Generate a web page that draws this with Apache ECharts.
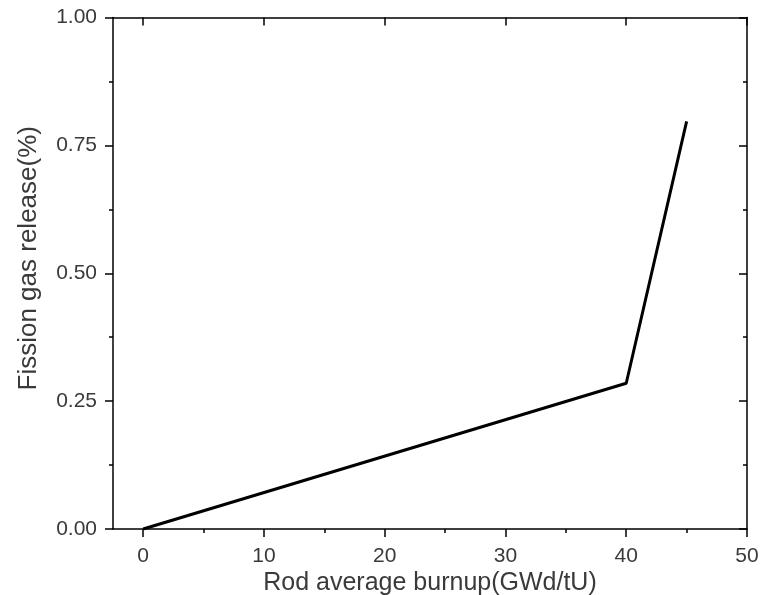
<!DOCTYPE html>
<html><head><meta charset="utf-8">
<script src="https://cdn.jsdelivr.net/npm/echarts@6/dist/echarts.min.js"></script>
<style>html,body{margin:0;padding:0;background:#fff}#c{width:766px;height:595px}</style>
</head><body><div id="c"></div>
<script>
var burnup = [0, 40, 45];
var fgr = [0, 0.285, 0.797];
var xTicks = [0, 10, 20, 30, 40, 50];
var xMinorTicks = [5, 15, 25, 35, 45];
var xTitle = 'Rod average burnup(GWd/tU)';
var yTitle = 'Fission gas release(%)';

var chart = echarts.init(document.getElementById('c'), null, {renderer:'canvas'});
var font = 'Liberation Sans, Arial, sans-serif';
var lineStyle = {color:'#000', width:1.5};
function xAx(pos, show){
  return {type:'value', position:pos, min:-2.5, max:50, interval:10,
    name: show ? xTitle : '', nameLocation:'middle', nameGap:42, nameMoveOverlap:false,
    nameTextStyle:{fontFamily:font, fontSize:25, color:'#3a3a3a'},
    axisLine:{show:true, onZero:false, lineStyle:lineStyle},
    axisTick:{show:true, inside:!show, length:8, lineStyle:lineStyle, customValues:xTicks},
    minorTick:{show:false},
    axisLabel:{show:show, margin:17, fontFamily:font, fontSize:21, color:'#3a3a3a', customValues:xTicks},
    splitLine:{show:false}};
}
function yAx(pos, show){
  return {type:'value', position:pos, min:0, max:1, interval:0.25,
    name: show ? yTitle : '', nameLocation:'middle', nameGap:71, nameMoveOverlap:false,
    nameTextStyle:{fontFamily:font, fontSize:26, color:'#3a3a3a', padding:[0,0,0,30]},
    axisLine:{show:true, onZero:false, lineStyle:lineStyle},
    axisTick:{show:true, inside:!show, length:8, lineStyle:lineStyle},
    minorTick:{show:true, splitNumber:2, length:4, lineStyle:lineStyle},
    axisLabel:{show:show, margin:16, fontFamily:font, fontSize:21, color:'#3a3a3a',
      formatter:function(v){return v.toFixed(2);}},
    splitLine:{show:false}};
}
function xMinor(pos, show){
  return {type:'value', position:pos, min:-2.5, max:50,
    axisLine:{show:false},
    axisTick:{show:true, inside:!show, length:4, lineStyle:lineStyle, customValues:xMinorTicks},
    axisLabel:{show:false}, splitLine:{show:false}};
}
chart.setOption({
  animation:false,
  backgroundColor:'#fff',
  grid:{left:113, right:19, top:17.5, bottom:66, containLabel:false, outerBoundsMode:'none'},
  xAxis:[xAx('bottom',true), xAx('top',false), xMinor('bottom',true), xMinor('top',false)],
  yAxis:[yAx('left',true), yAx('right',false)],
  series:[{type:'line', xAxisIndex:0, yAxisIndex:0, data:burnup.map(function(x,i){return [x,fgr[i]];}),
    showSymbol:false, lineStyle:{color:'#000', width:3}}]
});
</script></body></html>
